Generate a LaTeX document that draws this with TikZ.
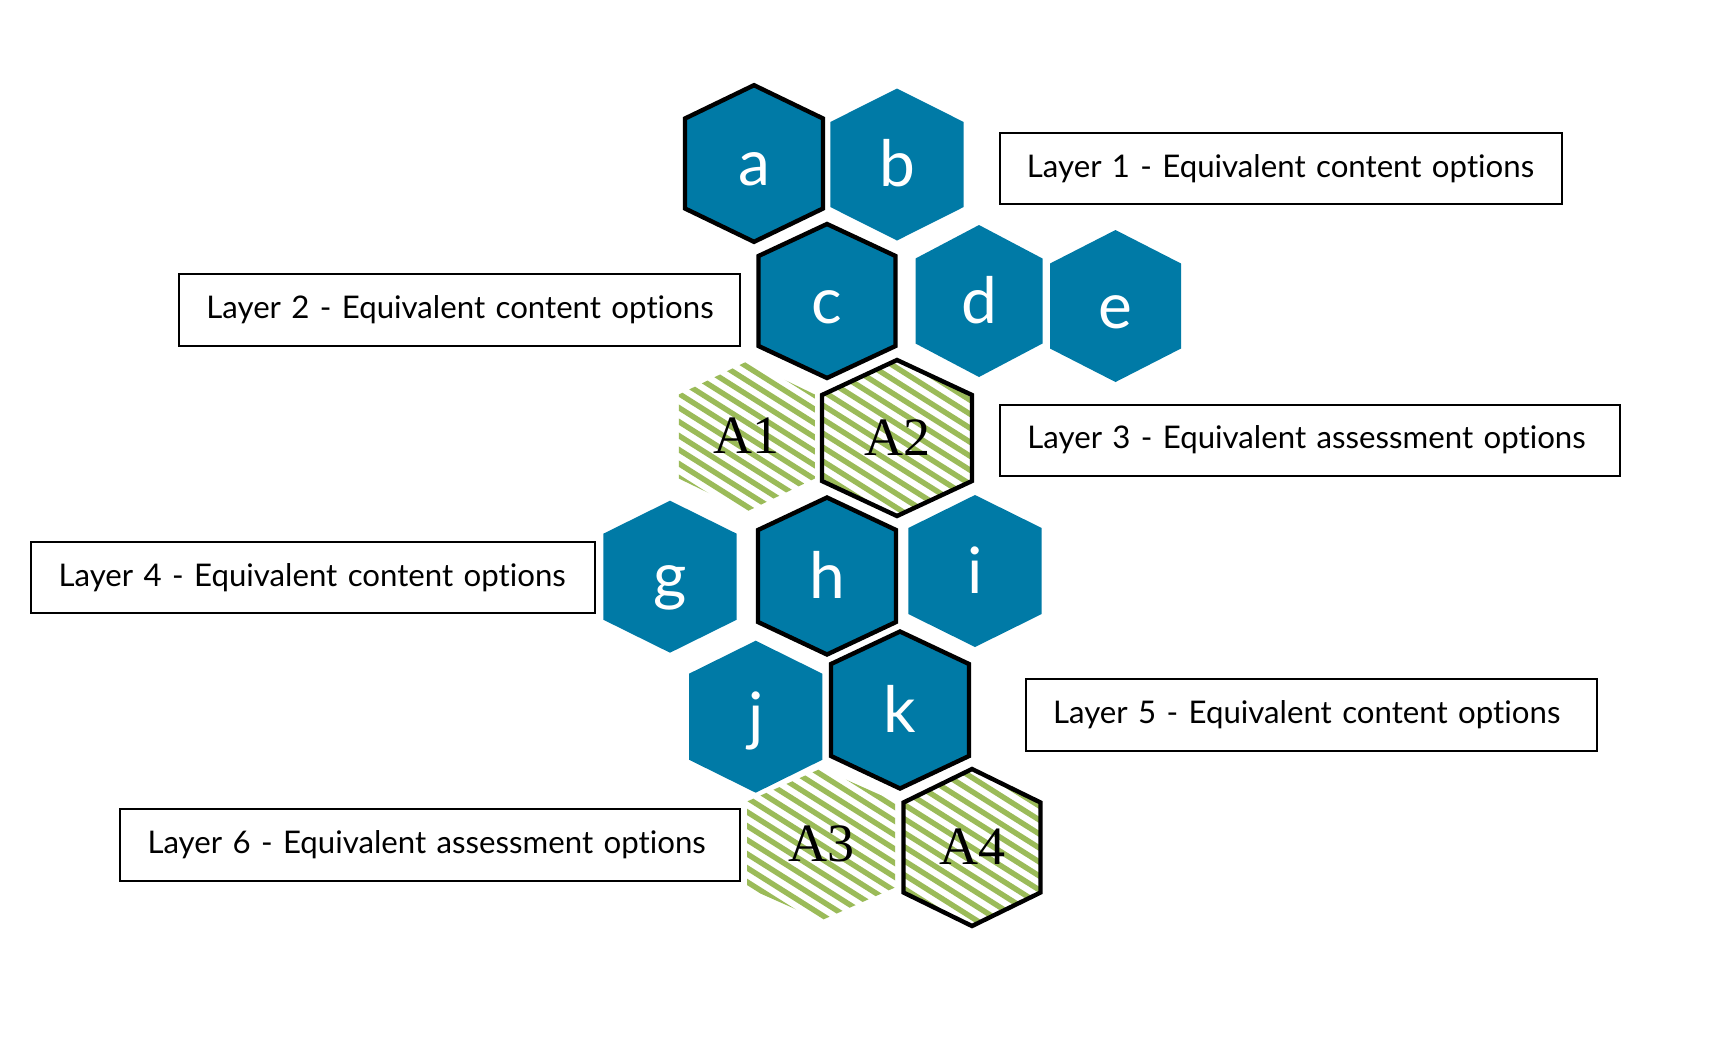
\documentclass[tikz,border=0pt]{standalone}
\usepackage{fontspec}
\newfontfamily\labfont{Lato}[Ligatures=NoCommon]
\newfontfamily\afont{Liberation Serif}
\definecolor{hexblue}{RGB}{0,122,166}
\definecolor{hatchgreen}{RGB}{155,187,89}
\newcommand\hexp[3]{(0,-#2) -- (#1,-#3) -- (#1,#3) -- (0,#2) -- (-#1,#3) -- (-#1,-#3) -- cycle}
\tikzset{
  hexlabel/.style={anchor=base, inner sep=0pt, text=white, font=\labfont\fontsize{32}{36}\selectfont},
  alabel/.style={anchor=base, inner sep=0pt, text=black, font=\afont\fontsize{27}{30}\selectfont},
  hexborder/.style={draw=black, line width=2.2pt, line join=miter},
  hatchline/.style={draw=hatchgreen, line width=2.7pt},
  lbox/.style={draw=black, line width=1pt, inner xsep=13.7pt, inner ysep=0pt, align=left,
    font=\labfont\fontsize{15.6}{19}\selectfont, anchor=center},
}
% name, cx, cy, hw, hh, s, letter, bordered(0/1)
\newcommand\bluehex[8]{%
  \begin{scope}[shift={(#2,#3)}]
    \fill[hexblue] \hexp{#4}{#5}{#6};
    \ifnum#8=1 \path[hexborder] \hexp{#4}{#5}{#6};\fi
    \node[hexlabel] (#1) at (0,22) {#7};
  \end{scope}}
\newcommand\hatchhex[8]{%
  \begin{scope}[shift={(#2,#3)}]
    \begin{scope}
      \clip \hexp{#4}{#5}{#6};
      \foreach \k in {-18,...,18} \draw[hatchline] (-130,{\k*14-82}) -- (130,{\k*14+82});
    \end{scope}
    \ifnum#8=1 \path[hexborder] \hexp{#4}{#5}{#6};\fi
    \node[alabel] (#1) at (0,17) {#7};
  \end{scope}}
\begin{document}
\begin{tikzpicture}[x=0.5pt, y=-0.5pt]
\useasboundingbox[fill=white] (0,0) rectangle (1722,1040);
% unbordered
\bluehex{hb}{897}{164.5}{66.7}{76}{42.5}{b}{0}
\bluehex{hd}{979}{301}{63.5}{76}{42.5}{d}{0}
\bluehex{he}{1115.5}{306}{65.5}{76}{42.5}{e}{0}
\hatchhex{hA1}{746.8}{436.5}{68}{75}{42}{A1}{0}
\bluehex{hg}{670}{576.7}{66.7}{76}{43}{g}{0}
\bluehex{hi}{975}{571}{66.7}{76}{43}{i}{0}
\bluehex{hj}{755.7}{716.7}{66.7}{76}{43}{j}{0}
\hatchhex{hA3}{821}{844.5}{74}{76}{43}{A3}{0}
% bordered
\bluehex{ha}{754}{163.5}{69}{78.3}{45}{a}{1}
\bluehex{hc}{827}{301}{68.5}{77}{45}{c}{1}
\hatchhex{hA2}{897}{438}{75}{78}{43}{A2}{1}
\bluehex{hh}{827}{576}{69}{78.5}{46}{h}{1}
\bluehex{hk}{900}{710}{69}{78.5}{46}{k}{1}
\hatchhex{hA4}{972}{847.5}{68.5}{78.5}{45}{A4}{1}
% label boxes
\node[lbox, minimum width=281pt, minimum height=35.7pt, text width=253.6pt] (L1) at (1280.5,168.6) {\mbox{Layer 1 - Equivalent content options}};
\node[lbox, minimum width=280.6pt, minimum height=36.2pt, text width=253.2pt] (L2) at (459.6,309.7) {\mbox{Layer 2 - Equivalent content options}};
\node[lbox, minimum width=310pt, minimum height=35.5pt, text width=282.6pt] (L3) at (1310,440) {\mbox{Layer 3 - Equivalent assessment options}};
\node[lbox, minimum width=282pt, minimum height=35.6pt, text width=254.6pt] (L4) at (313.2,577.2) {\mbox{Layer 4 - Equivalent content options}};
\node[lbox, minimum width=285.8pt, minimum height=35.8pt, text width=258.4pt] (L5) at (1311.5,714.8) {\mbox{Layer 5 - Equivalent content options}};
\node[lbox, minimum width=310pt, minimum height=35.7pt, text width=282.6pt] (L6) at (430.1,845.1) {\mbox{Layer 6 - Equivalent assessment options}};
\end{tikzpicture}
\end{document}
